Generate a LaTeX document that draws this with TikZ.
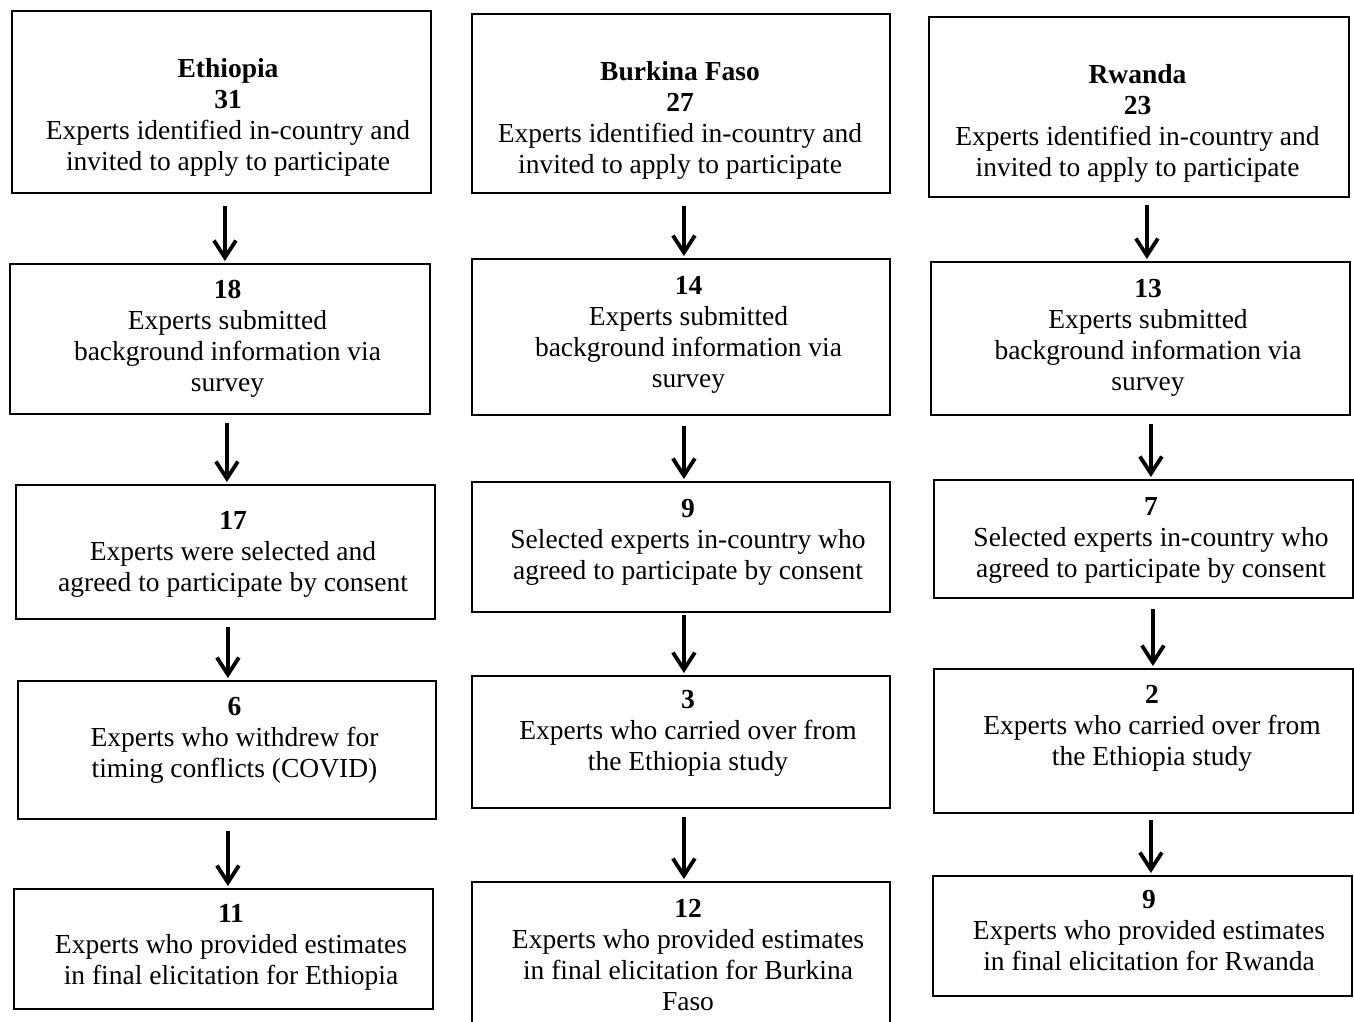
\documentclass[tikz,border=0pt]{standalone}
\usepackage{fontspec}
\setmainfont{Liberation Serif}
\usetikzlibrary{arrows.meta}
\tikzset{
  box/.style={draw=black, line width=1.8pt, inner sep=0pt, anchor=north west},
  txt/.style={inner sep=0pt, anchor=base, font=\fontsize{27.5}{31}\selectfont},
  arr/.style={line width=3.8pt, -{Straight Barb[length=17pt,width=22pt]}, shorten >=2pt}
}
\newcommand{\lns}[1]{\begin{tabular}[t]{@{}c@{}}#1\end{tabular}}
\begin{document}
\begin{tikzpicture}[x=1pt,y=-1pt]
\useasboundingbox (0,0) rectangle (1354,1021);
% Ethiopia column
\node[box, minimum width=419pt, minimum height=182pt] (e1) at (11,10) {};
\node[box, minimum width=420pt, minimum height=150pt] (e2) at (9,263) {};
\node[box, minimum width=419pt, minimum height=134pt] (e3) at (15,484) {};
\node[box, minimum width=418pt, minimum height=138pt] (e4) at (17,680) {};
\node[box, minimum width=419pt, minimum height=120pt] (e5) at (13,888) {};
\node[txt] (te1) at (228,77) {\lns{\textbf{Ethiopia}\\\textbf{31}\\Experts identified in-country and\\invited to apply to participate}};
\node[txt] (te2) at (227.5,298) {\lns{\textbf{18}\\Experts submitted\\background information via\\survey}};
\node[txt] (te3) at (233,529) {\lns{\textbf{17}\\Experts were selected and\\agreed to participate by consent}};
\node[txt] (te4) at (234.5,715) {\lns{\textbf{6}\\Experts who withdrew for\\timing conflicts (COVID)}};
\node[txt] (te5) at (231,922) {\lns{\textbf{11}\\Experts who provided estimates\\in final elicitation for Ethiopia}};
% Burkina Faso column
\node[box, minimum width=418pt, minimum height=179pt] (b1) at (471,13) {};
\node[box, minimum width=418pt, minimum height=156pt] (b2) at (471,258) {};
\node[box, minimum width=418pt, minimum height=130pt] (b3) at (471,481) {};
\node[box, minimum width=418pt, minimum height=132pt] (b4) at (471,675) {};
\node[box, minimum width=418pt, minimum height=160pt] (b5) at (471,881) {};
\node[txt] (tb1) at (680,80) {\lns{\textbf{Burkina Faso}\\\textbf{27}\\Experts identified in-country and\\invited to apply to participate}};
\node[txt] (tb2) at (688.5,294) {\lns{\textbf{14}\\Experts submitted\\background information via\\survey}};
\node[txt] (tb3) at (688,517) {\lns{\textbf{9}\\Selected experts in-country who\\agreed to participate by consent}};
\node[txt] (tb4) at (688,708) {\lns{\textbf{3}\\Experts who carried over from\\the Ethiopia study}};
\node[txt] (tb5) at (688,917) {\lns{\textbf{12}\\Experts who provided estimates\\in final elicitation for Burkina\\Faso}};
% Rwanda column
\node[box, minimum width=420pt, minimum height=180pt] (r1) at (928,16) {};
\node[box, minimum width=419pt, minimum height=153pt] (r2) at (930,261) {};
\node[box, minimum width=419pt, minimum height=118pt] (r3) at (933,479) {};
\node[box, minimum width=419pt, minimum height=144pt] (r4) at (933,668) {};
\node[box, minimum width=419pt, minimum height=120pt] (r5) at (932,875) {};
\node[txt] (tr1) at (1137.5,83) {\lns{\textbf{Rwanda}\\\textbf{23}\\Experts identified in-country and\\invited to apply to participate}};
\node[txt] (tr2) at (1148,297) {\lns{\textbf{13}\\Experts submitted\\background information via\\survey}};
\node[txt] (tr3) at (1151,515) {\lns{\textbf{7}\\Selected experts in-country who\\agreed to participate by consent}};
\node[txt] (tr4) at (1152,703) {\lns{\textbf{2}\\Experts who carried over from\\the Ethiopia study}};
\node[txt] (tr5) at (1149,908) {\lns{\textbf{9}\\Experts who provided estimates\\in final elicitation for Rwanda}};
% arrows
\draw[arr, shorten <=12pt] ([xshift=3.5pt]e1.south) -- ([xshift=3.5pt]e1.south |- e2.north);
\draw[arr, shorten <=8pt] ([xshift=7pt]e2.south) -- ([xshift=7pt]e2.south |- e3.north);
\draw[arr, shorten <=7pt] ([xshift=2.5pt]e3.south) -- ([xshift=2.5pt]e3.south |- e4.north);
\draw[arr, shorten <=11pt] ([xshift=1pt]e4.south) -- ([xshift=1pt]e4.south |- e5.north);
\draw[arr, shorten <=12pt] ([xshift=3pt]b1.south) -- ([xshift=3pt]b1.south |- b2.north);
\draw[arr, shorten <=10pt] ([xshift=3pt]b2.south) -- ([xshift=3pt]b2.south |- b3.north);
\draw[arr, shorten <=2pt] ([xshift=3pt]b3.south) -- ([xshift=3pt]b3.south |- b4.north);
\draw[arr, shorten <=8pt] ([xshift=3pt]b4.south) -- ([xshift=3pt]b4.south |- b5.north);
\draw[arr, shorten <=7pt] ([xshift=8pt]r1.south) -- ([xshift=8pt]r1.south |- r2.north);
\draw[arr, shorten <=8pt] ([xshift=10.5pt]r2.south) -- ([xshift=10.5pt]r2.south |- r3.north);
\draw[arr, shorten <=10pt] ([xshift=9.5pt]r3.south) -- ([xshift=9.5pt]r3.south |- r4.north);
\draw[arr, shorten <=6pt] ([xshift=7.5pt]r4.south) -- ([xshift=7.5pt]r4.south |- r5.north);
\end{tikzpicture}
\end{document}
